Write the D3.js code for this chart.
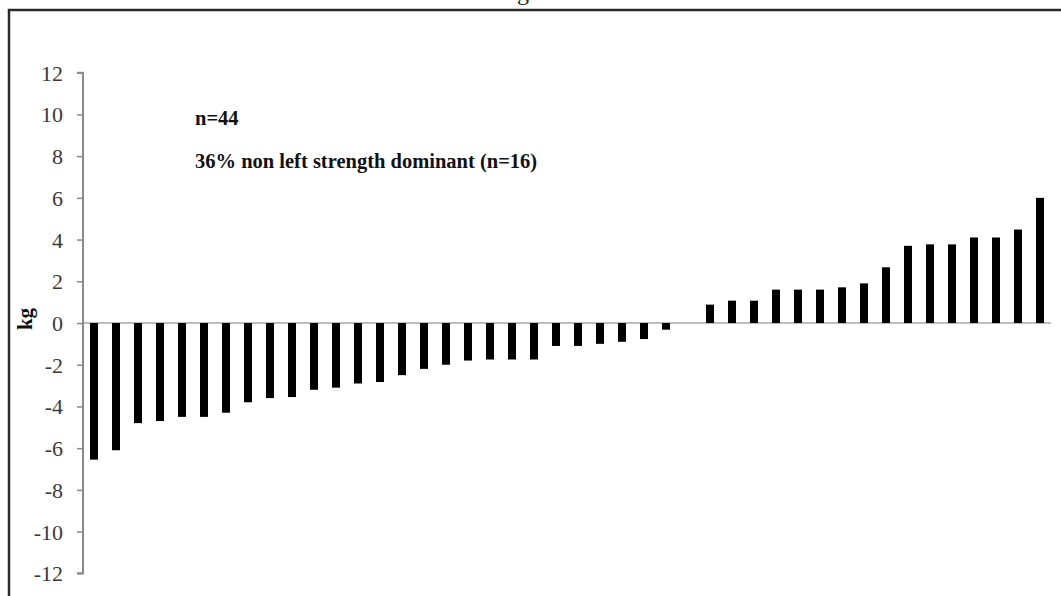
<!DOCTYPE html>
<html>
<head>
<meta charset="utf-8">
<script src="https://cdn.jsdelivr.net/npm/d3@7"></script>
<style>
  html, body { margin: 0; padding: 0; background: #fff; }
  svg { display: block; }
</style>
</head>
<body>
<svg id="chart" width="1061" height="596"></svg>
<script>
// ---- data ----
const subjects = d3.range(1, 45).map(d => "S" + d);
const differences = [
  -6.55, -6.1, -4.8, -4.7, -4.5, -4.5, -4.3, -3.8, -3.6, -3.55,
  -3.2, -3.1, -2.9, -2.83, -2.5, -2.2, -2.0, -1.8, -1.75, -1.75,
  -1.75, -1.1, -1.1, -1.0, -0.9, -0.77, -0.32, 0,
  0.88, 1.07, 1.07, 1.6, 1.6, 1.6, 1.71, 1.9, 2.67, 3.7,
  3.77, 3.77, 4.1, 4.1, 4.48, 6.0
];
const yTicks = [-12, -10, -8, -6, -4, -2, 0, 2, 4, 6, 8, 10, 12];
const yLabel = "kg";
const notes = ["n=44", "36% non left strength dominant (n=16)"];
const titleText = "g";

// ---- layout ----
const svg = d3.select("#chart");
const W = 1061, H = 596;
const serif = "'Liberation Serif', 'Times New Roman', serif";

// frame (top + left border)
svg.append("path")
  .attr("d", `M9,${H + 5} L9,10 L${W + 5},10`)
  .attr("fill", "none")
  .attr("stroke", "#2a2a2a")
  .attr("stroke-width", 2.5);

// title, cut by the top edge as in the reference (only the descender shows)
svg.append("text")
  .attr("x", 523).attr("y", 0)
  .attr("text-anchor", "middle")
  .attr("font-family", serif)
  .attr("font-size", 24)
  .attr("fill", "#222")
  .text(titleText);

const x = d3.scaleBand()
  .domain(subjects)
  .range([83, 1051])
  .paddingInner(0.636)
  .paddingOuter(0.318);

const y = d3.scaleLinear()
  .domain([-12, 12])
  .range([573.3, 72.7]);

// zero line
svg.append("line")
  .attr("x1", 83).attr("x2", 1051)
  .attr("y1", y(0)).attr("y2", y(0))
  .attr("stroke", "#bdbdbd")
  .attr("stroke-width", 2);

// y axis
const yAxis = d3.axisLeft(y)
  .tickValues(yTicks)
  .tickSize(6)
  .tickPadding(14)
  .tickFormat(d3.format("d"));

const gy = svg.append("g")
  .attr("transform", "translate(83,0)")
  .call(yAxis);
gy.select(".domain").attr("stroke", "#8a8a8a").attr("stroke-width", 2)
  .attr("d", `M-6,${y(12)}H0V${y(-12)}H-6`);
gy.selectAll(".tick line").attr("stroke", "#8a8a8a").attr("stroke-width", 1.5);
gy.selectAll(".tick text")
  .attr("font-family", serif)
  .attr("font-size", 22)
  .attr("fill", "#3a3a3a")
  .attr("dy", "0.34em")
  .text(d => d < 0 ? "-" + Math.abs(d) : d);

// y label
svg.append("text")
  .attr("transform", `translate(32,${y(0) - 4}) rotate(-90)`)
  .attr("text-anchor", "middle")
  .attr("font-family", serif)
  .attr("font-weight", "bold")
  .attr("font-size", 21)
  .attr("fill", "#111")
  .text(yLabel);

// bars
svg.append("g")
  .selectAll("rect")
  .data(differences)
  .join("rect")
  .attr("x", (d, i) => x(subjects[i]))
  .attr("width", x.bandwidth())
  .attr("y", d => y(Math.max(0, d)))
  .attr("height", d => Math.abs(y(d) - y(0)))
  .attr("fill", "#000");

// annotations
svg.append("g")
  .selectAll("text")
  .data(notes)
  .join("text")
  .attr("x", 195)
  .attr("y", (d, i) => 125 + i * 43)
  .attr("font-family", serif)
  .attr("font-weight", "bold")
  .attr("font-size", 20.5)
  .attr("fill", "#111")
  .text(d => d);
</script>
</body>
</html>
